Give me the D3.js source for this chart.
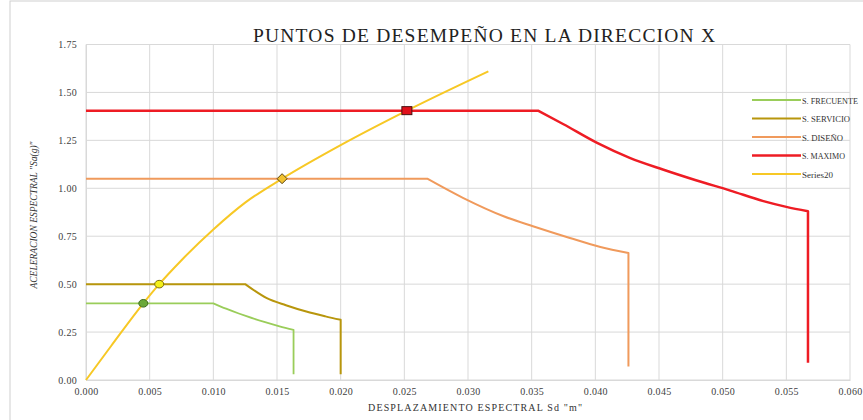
<!DOCTYPE html>
<html>
<head>
<meta charset="utf-8">
<script src="https://cdn.jsdelivr.net/npm/d3@7"></script>
<style>
  html, body { margin: 0; padding: 0; background: #fff; }
  svg { display: block; }
</style>
</head>
<body>
<svg id="chart" width="863" height="420"></svg>
<script>
// Demand spectra (Sd in m, Sa in g) for each seismic level
const frecuente = [[0, 0.40], [0.010, 0.40], [0.011, 0.372], [0.012, 0.347], [0.0126, 0.333], [0.014, 0.303], [0.0152, 0.280], [0.0163, 0.262], [0.0163, 0.03]];
const servicio = [[0, 0.50], [0.0125, 0.50], [0.0142, 0.427], [0.0157, 0.39], [0.0173, 0.357], [0.0188, 0.332], [0.0200, 0.314], [0.0200, 0.03]];
const diseno = [[0, 1.05], [0.0268, 1.05], [0.0296, 0.95], [0.0328, 0.854], [0.0351, 0.802], [0.0380, 0.741], [0.0404, 0.694], [0.0426, 0.662], [0.0426, 0.07]];
const maximo = [[0, 1.405], [0.0355, 1.405], [0.0375, 1.334], [0.0401, 1.238], [0.0427, 1.159], [0.0453, 1.098], [0.0479, 1.042], [0.0506, 0.988], [0.0532, 0.933], [0.0550, 0.903], [0.0567, 0.880], [0.0567, 0.09]];
// Capacity spectrum
const series20 = [[0, 0], [0.002, 0.18], [0.0045, 0.40], [0.00575, 0.50], [0.0075, 0.625], [0.010, 0.785], [0.0125, 0.925], [0.0154, 1.05], [0.020, 1.225], [0.0252, 1.405], [0.0316, 1.61]];
// Performance points
const perfPoints = [
  { sd: 0.0045, sa: 0.40, shape: "circle", fill: "#6aa83a", stroke: "#3d6b1f" },
  { sd: 0.00575, sa: 0.50, shape: "circle", fill: "#f4f01a", stroke: "#7a6a10" },
  { sd: 0.0154, sa: 1.05, shape: "diamond", fill: "#f2c230", stroke: "#5a4410" },
  { sd: 0.0252, sa: 1.405, shape: "square", fill: "#e0101a", stroke: "#4a1010" }
];
const xTicks = [0, 0.005, 0.010, 0.015, 0.020, 0.025, 0.030, 0.035, 0.040, 0.045, 0.050, 0.055, 0.060];
const yTicks = [0, 0.25, 0.50, 0.75, 1.00, 1.25, 1.50, 1.75];
const seriesNames = ["S. FRECUENTE", "S. SERVICIO", "S. DISEÑO", "S. MAXIMO", "Series20"];
const seriesColors = ["#9acd5a", "#b8960c", "#f09a5c", "#ee1c24", "#f7c825"];
const seriesWidths = [1.8, 2, 2, 2.5, 2];
const legendWidths = [56, 48, 41, 43, 31];

const svg = d3.select("#chart");
const font = "'Liberation Serif', 'Times New Roman', serif";

// outer chart frame
svg.append("rect").attr("x", 10).attr("y", 1).attr("width", 900).attr("height", 500)
  .attr("fill", "#fff").attr("stroke", "#d0d0d0").attr("stroke-width", 1);

const x = d3.scaleLinear().domain([0, 0.060]).range([86, 850]);
const y = d3.scaleLinear().domain([0, 1.75]).range([380, 44.5]);

// gridlines
const grid = svg.append("g");
grid.selectAll("line.v").data(xTicks).join("line")
  .attr("x1", d => x(d)).attr("x2", d => x(d)).attr("y1", y(0)).attr("y2", y(1.75))
  .attr("stroke", "#d9d9d9").attr("stroke-width", 1);
grid.selectAll("line.h").data(yTicks).join("line")
  .attr("x1", x(0)).attr("x2", x(0.060)).attr("y1", d => y(d)).attr("y2", d => y(d))
  .attr("stroke", "#d9d9d9").attr("stroke-width", 1);

// axes
const xAxis = svg.append("g").attr("transform", `translate(0,${y(0)})`)
  .call(d3.axisBottom(x).tickValues(xTicks).tickFormat(d3.format(".3f")).tickSize(0).tickPadding(8));
const yAxis = svg.append("g").attr("transform", `translate(${x(0)},0)`)
  .call(d3.axisLeft(y).tickValues(yTicks).tickFormat(d3.format(".2f")).tickSize(0).tickPadding(9));
[xAxis, yAxis].forEach(a => {
  a.attr("font-family", null);
  a.select(".domain").attr("stroke", "#d9d9d9");
  a.selectAll("text").style("font-family", font).style("font-size", "10px")
    .style("letter-spacing", "0.3px").attr("fill", "#404040");
});

// series lines: flat plateau, smooth descending branch, straight vertical drop
const smooth = d3.line().x(d => x(d[0])).y(d => y(d[1])).curve(d3.curveMonotoneX);
const straight = d3.line().x(d => x(d[0])).y(d => y(d[1]));
const demand = [frecuente, servicio, diseno, maximo];
const lines = svg.append("g");
demand.forEach((s, i) => {
  const n = s.length;
  const path = straight(s.slice(0, 2))
    + smooth(s.slice(1, n - 1)).replace(/^M/, "L")
    + straight(s.slice(n - 2)).replace(/^M/, "L");
  lines.append("path").attr("d", path).attr("fill", "none")
    .attr("stroke", seriesColors[i]).attr("stroke-width", seriesWidths[i])
    .attr("stroke-linejoin", "round");
});
lines.append("path").attr("d", smooth(series20)).attr("fill", "none")
  .attr("stroke", seriesColors[4]).attr("stroke-width", seriesWidths[4]);

// performance point markers
const mk = svg.append("g");
perfPoints.forEach(p => {
  const cx = x(p.sd), cy = y(p.sa);
  if (p.shape === "circle") {
    mk.append("ellipse").attr("cx", cx).attr("cy", cy).attr("rx", 4.5).attr("ry", 3.8)
      .attr("fill", p.fill).attr("stroke", p.stroke).attr("stroke-width", 1);
  } else if (p.shape === "diamond") {
    mk.append("path").attr("d", `M${cx},${cy - 5}L${cx + 5},${cy}L${cx},${cy + 5}L${cx - 5},${cy}Z`)
      .attr("fill", p.fill).attr("stroke", p.stroke).attr("stroke-width", 1);
  } else {
    mk.append("rect").attr("x", cx - 5).attr("y", cy - 4).attr("width", 10).attr("height", 8)
      .attr("fill", p.fill).attr("stroke", p.stroke).attr("stroke-width", 1);
  }
});

// title
svg.append("text").attr("x", 484).attr("y", 42).attr("text-anchor", "middle")
  .attr("font-family", font).attr("font-size", 19.5).attr("fill", "#222")
  .attr("textLength", 462).attr("lengthAdjust", "spacing")
  .text("PUNTOS DE DESEMPEÑO EN LA DIRECCION  X");

// axis titles
svg.append("text").attr("x", 475).attr("y", 411).attr("text-anchor", "middle")
  .attr("font-family", font).attr("font-size", 10).attr("fill", "#333")
  .attr("textLength", 214).attr("lengthAdjust", "spacing")
  .text("DESPLAZAMIENTO  ESPECTRAL Sd \"m\"");
svg.append("text").attr("transform", `translate(37,215) rotate(-90)`)
  .attr("text-anchor", "middle").attr("font-family", font).attr("font-size", 9.5)
  .attr("font-style", "italic").attr("fill", "#333")
  .text("ACELERACION ESPECTRAL \"Sa(g)\"");

// legend
const lg = svg.append("g");
seriesNames.forEach((name, i) => {
  const ly = 100 + i * 18.5;
  lg.append("line").attr("x1", 752).attr("x2", 801).attr("y1", ly).attr("y2", ly)
    .attr("stroke", seriesColors[i]).attr("stroke-width", seriesWidths[i]);
  lg.append("text").attr("x", 802).attr("y", ly + 3.5)
    .attr("font-family", font).attr("font-size", 7.8).attr("fill", "#333")
    .attr("textLength", legendWidths[i]).attr("lengthAdjust", "spacingAndGlyphs")
    .text(name);
});
</script>
</body>
</html>
